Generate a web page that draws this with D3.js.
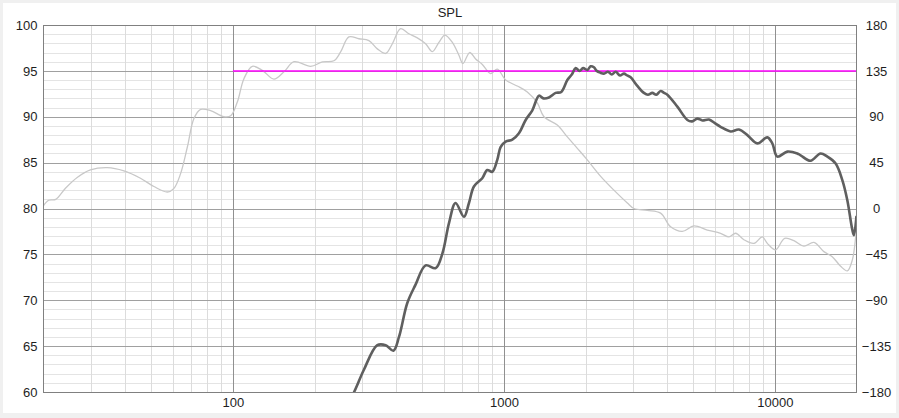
<!DOCTYPE html>
<html>
<head>
<meta charset="utf-8">
<script src="https://cdn.jsdelivr.net/npm/d3@7"></script>
<style>
  html, body { margin: 0; padding: 0; background: #f0f0f0; }
  svg { display: block; }
  text { font-family: "Liberation Sans", Arial, sans-serif; font-size: 13px; fill: #1e1e1e; }
</style>
</head>
<body>
<svg id="chart" width="899" height="418"></svg>
<script>
// ---- data ----
const title = "SPL";
const freqMajor = [100, 1000, 10000];
const freqMinor = [30, 40, 50, 60, 70, 80, 90, 200, 300, 400, 500, 600, 700, 800, 900,
                   2000, 3000, 4000, 5000, 6000, 7000, 8000, 9000];
const dbTicks = [60, 65, 70, 75, 80, 85, 90, 95, 100];
const dbMinor = [61,62,63,64,66,67,68,69,71,72,73,74,76,77,78,79,81,82,83,84,86,87,88,89,91,92,93,94,96,97,98,99];
const phaseTicks = [-180, -135, -90, -45, 0, 45, 90, 135, 180];

const targetLevel = 95;
const targetStart = 100;
const targetEnd = 20000;

const lightFreq = [20, 20.9, 22.2, 24.1, 26.7, 29.8, 34.4, 39.6, 45.6, 51.1, 57.3, 60.6, 64.1, 67.9, 71.8, 76,
  82.7, 92.6, 98.1, 103.8, 109.8, 117.9, 128.4, 141.7, 154.3, 168, 193.5, 213.8, 235.9, 249.7, 267.9, 291.7,
  317.6, 341.1, 366.1, 387.5, 415.7, 446.1, 479.1, 514.2, 544.3, 575.6, 605.8, 645.1, 682.3, 705.9, 747.2,
  786.4, 832.4, 893.2, 945.4, 1015, 1120, 1220, 1328, 1405, 1574, 1714, 1866, 2031, 2275, 2546, 2854, 3018,
  3382, 3786, 4122, 4553, 5025, 5630, 6303, 6767, 7161, 7685, 8368, 8985, 9376, 10060, 10860, 11750, 12790,
  13930, 15160, 16280, 17480, 18500, 19310, 19860, 20000];
const lightDb = [80.3, 80.9, 81.0, 82.2, 83.4, 84.2, 84.45, 84.1, 83.3, 82.4, 81.8, 82.2, 83.8, 86.7, 89.8, 90.8,
  90.66, 90.0, 90.1, 91.6, 94.15, 95.5, 95.06, 94.1, 94.9, 96.0, 95.5, 95.97, 96.1, 97.06, 98.7, 98.5,
  98.3, 97.4, 96.9, 97.96, 99.6, 99.05, 98.6, 97.96, 97.1, 98.1, 98.9, 98.1, 96.7, 95.8, 97.0,
  96.3, 95.7, 94.7, 95.2, 94.0, 93.35, 92.7, 91.5, 90.0, 89.1, 87.8, 86.56, 85.3, 83.5, 82.0, 80.6, 80.0,
  79.8, 79.5, 78.0, 77.5, 78.1, 77.65, 77.3, 76.9, 77.3, 76.6, 76.2, 76.9, 76.2, 75.5, 76.75, 76.5, 75.9,
  76.3, 75.3, 74.75, 73.7, 73.2, 74.4, 76.9, 77.8];

const splFreq = [265, 280, 304, 341, 366, 391, 410, 440, 472, 514, 560, 593, 627, 663, 712, 743, 775, 832, 868,
  906, 945, 972, 1015, 1074, 1136, 1203, 1273, 1347, 1400, 1466, 1551, 1628, 1714, 1780, 1840, 1900, 1960,
  2031, 2090, 2148, 2200, 2270, 2339, 2420, 2500, 2584, 2680, 2773, 2850, 2935, 3100, 3285, 3400, 3528,
  3650, 3786, 3900, 4009, 4365, 4753, 4950, 5172, 5400, 5708, 6000, 6303, 6864, 7367, 7912, 8612, 9376,
  9781, 10205, 11110, 12095, 12440, 13540, 14740, 15610, 16750, 17730, 18500, 19310, 19570, 20000];
const splDb = [58.8, 60.0, 62.4, 65.1, 65.1, 64.5, 66.0, 69.7, 71.7, 73.8, 73.5, 75.1, 78.4, 80.6, 79.1, 80.6,
  82.4, 83.3, 84.2, 84.0, 85.3, 86.7, 87.3, 87.5, 88.2, 89.65, 90.7, 92.3, 92.0, 92.1, 92.6, 92.7, 94.0, 94.6,
  95.3, 95.0, 95.3, 95.1, 95.5, 95.4, 95.0, 94.8, 94.7, 94.9, 94.6, 94.9, 94.5, 94.7, 94.5, 94.3, 93.4, 92.6,
  92.4, 92.6, 92.4, 92.8, 92.6, 92.4, 91.1, 89.65, 89.5, 89.8, 89.6, 89.7, 89.3, 88.9, 88.4, 88.6, 88.0,
  87.1, 87.75, 87.1, 85.65, 86.2, 86.0, 85.8, 85.2, 86.0, 85.65, 84.9, 83.1, 80.9, 77.65, 77.1, 79.2];

// ---- layout ----
const svg = d3.select("#chart");
const mLeft = 43.5, mRight = 856.5, mTop = 25, mBottom = 392;

svg.append("rect").attr("x", 3).attr("y", 3).attr("width", 893).attr("height", 410).attr("fill", "#ffffff");

const x = d3.scaleLog().domain([20, 20000]).range([mLeft, mRight]);
const y = d3.scaleLinear().domain([60, 100]).range([mBottom, mTop]);
const y2 = d3.scaleLinear().domain([-180, 180]).range([mBottom, mTop]);

const px = v => Math.round(v) + 0.5;

const grid = svg.append("g");
grid.selectAll(".hmin").data(dbMinor).join("line")
  .attr("x1", mLeft).attr("x2", mRight)
  .attr("y1", d => px(y(d))).attr("y2", d => px(y(d)))
  .attr("stroke", "#e4e4e4").attr("stroke-width", 1);
grid.selectAll(".vmin").data(freqMinor).join("line")
  .attr("y1", mTop).attr("y2", mBottom)
  .attr("x1", d => px(x(d))).attr("x2", d => px(x(d)))
  .attr("stroke", "#dcdcdc").attr("stroke-width", 1);
grid.selectAll(".hmaj").data(dbTicks).join("line")
  .attr("x1", mLeft).attr("x2", mRight)
  .attr("y1", d => px(y(d))).attr("y2", d => px(y(d)))
  .attr("stroke", "#a0a0a0").attr("stroke-width", 1);
grid.selectAll(".vmaj").data(freqMajor).join("line")
  .attr("y1", mTop).attr("y2", mBottom)
  .attr("x1", d => px(x(d))).attr("x2", d => px(x(d)))
  .attr("stroke", "#909090").attr("stroke-width", 1);

svg.append("clipPath").attr("id", "clip").append("rect")
  .attr("x", mLeft).attr("y", mTop).attr("width", mRight - mLeft).attr("height", mBottom - mTop);

const plot = svg.append("g").attr("clip-path", "url(#clip)");

const line = d3.line().x(d => x(d[0])).y(d => y(d[1])).curve(d3.curveCatmullRom.alpha(0.5));

plot.append("path")
  .datum(d3.zip(lightFreq, lightDb))
  .attr("d", line)
  .attr("fill", "none").attr("stroke", "#c8c8c8").attr("stroke-width", 1.3);

plot.append("line")
  .attr("x1", x(targetStart)).attr("x2", x(targetEnd))
  .attr("y1", y(targetLevel)).attr("y2", y(targetLevel))
  .attr("stroke", "#ff00ff").attr("stroke-width", 1.5);

plot.append("path")
  .datum(d3.zip(splFreq, splDb))
  .attr("d", line)
  .attr("fill", "none").attr("stroke", "#5f5f5f").attr("stroke-width", 2.6)
  .attr("stroke-linejoin", "round");

svg.append("rect")
  .attr("x", mLeft).attr("y", mTop + 0.5).attr("width", mRight - mLeft).attr("height", mBottom - mTop)
  .attr("fill", "none").attr("stroke", "#808080").attr("stroke-width", 1);

const yAxis = d3.axisLeft(y).tickValues(dbTicks).tickSize(0).tickPadding(6);
const gy = svg.append("g").attr("transform", `translate(${mLeft},0)`).call(yAxis);
gy.select(".domain").remove();
gy.selectAll("text").style("font-size", "13px").style("font-family", "'Liberation Sans', Arial, sans-serif").attr("fill", "#1e1e1e");

const y2Axis = d3.axisRight(y2).tickValues(phaseTicks).tickSize(0).tickPadding(0);
const gy2 = svg.append("g").attr("transform", `translate(${mRight + 20},0)`).call(y2Axis);
gy2.select(".domain").remove();
gy2.selectAll("text").attr("text-anchor", "middle").style("font-size", "13px").style("font-family", "'Liberation Sans', Arial, sans-serif").attr("fill", "#1e1e1e");

const xAxis = d3.axisBottom(x).tickValues(freqMajor).tickFormat(d3.format("d")).tickSize(0).tickPadding(6);
const gx = svg.append("g").attr("transform", `translate(0,${mBottom})`).call(xAxis);
gx.select(".domain").remove();
gx.selectAll("text").style("font-size", "13px").style("font-family", "'Liberation Sans', Arial, sans-serif").attr("fill", "#1e1e1e");

svg.append("text").attr("x", (mLeft + mRight) / 2).attr("y", 17)
  .attr("text-anchor", "middle").style("font-size", "13px").text(title);
</script>
</body>
</html>
